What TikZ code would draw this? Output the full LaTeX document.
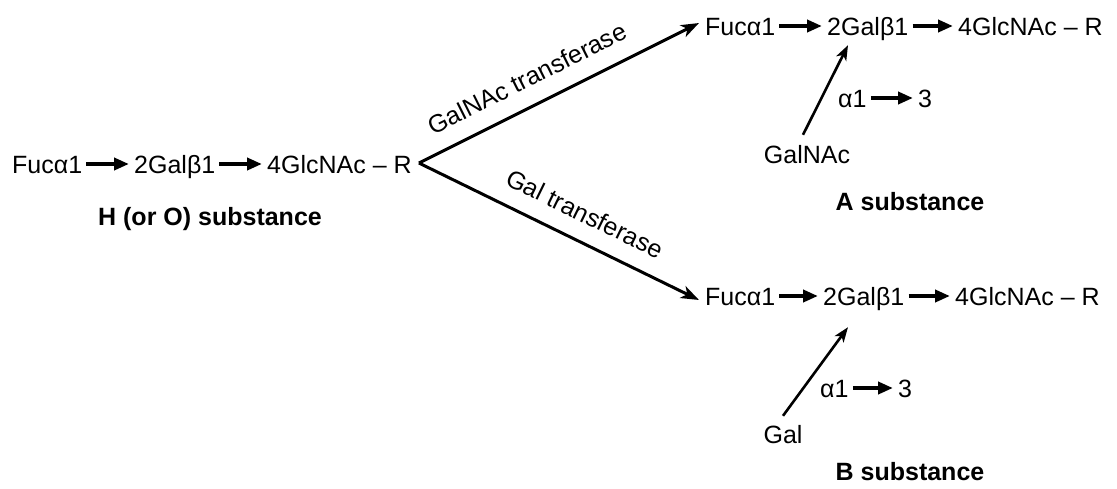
\documentclass[tikz,border=0pt]{standalone}
\usepackage{fontspec}
\setmainfont{Liberation Sans}
\usetikzlibrary{arrows.meta}
\begin{document}
\begin{tikzpicture}[x=1pt,y=-1pt,
  txt/.style={inner sep=0pt,text height=18pt,text depth=0pt,font=\fontsize{25}{30}\selectfont},
  bold/.style={txt,font=\fontsize{25}{30}\selectfont\bfseries},
  chainarrow/.style={line width=4pt,-{Triangle[length=15pt,width=12pt]},shorten <=4pt,shorten >=5pt},
  bigarrow/.style={line width=3pt,-{Stealth[length=18pt,width=13pt,inset=5pt]}},
  uparrow/.style={line width=2.6pt,-{Stealth[length=15pt,width=11pt,inset=4pt]}},
  lab/.style={txt,sloped,above=17pt}]
\useasboundingbox (0,0) rectangle (1117,488);
% left chain
\node[txt,anchor=west] (f0) at (12,164) {Fucα1};
\node[txt,anchor=west] (g0) at (134,164) {2Galβ1};
\node[txt,anchor=west] (n0) at (267,164) {4GlcNAc – R};
\draw[chainarrow] (f0.east) -- (g0.west);
\draw[chainarrow] (g0.east) -- (n0.west);
\node[bold] (hs) at (210,216) {H (or O) substance};
\coordinate (v) at ([shift={(7,-1)}]n0.east);
% top chain
\node[txt,anchor=west] (fa) at (705,26) {Fucα1};
\node[txt,anchor=west] (ga) at (827,26) {2Galβ1};
\node[txt,anchor=west] (na) at (958,26) {4GlcNAc – R};
\draw[chainarrow] (fa.east) -- (ga.west);
\draw[chainarrow] (ga.east) -- (na.west);
\node[txt] (gna) at (807,154) {GalNAc};
\node[txt,anchor=west] (a1a) at (838,98) {α1};
\node[txt,anchor=west] (t3a) at (918,98) {3};
\draw[chainarrow] (a1a.east) -- (t3a.west);
\coordinate (ea) at ([shift={(21,10)}]ga.south west);
\draw[uparrow] ([shift={(-4,-10)}]gna.north) -- (ea);
\node[bold] (as) at (910,201) {A substance};
% bottom chain
\node[txt,anchor=west] (fb) at (705,296) {Fucα1};
\node[txt,anchor=west] (gb) at (823,296) {2Galβ1};
\node[txt,anchor=west] (nb) at (955,296) {4GlcNAc – R};
\draw[chainarrow] (fb.east) -- (gb.west);
\draw[chainarrow] (gb.east) -- (nb.west);
\node[txt] (gl) at (783,434) {Gal};
\node[txt,anchor=west] (a1b) at (820,388) {α1};
\node[txt,anchor=west] (t3b) at (898,388) {3};
\draw[chainarrow] (a1b.east) -- (t3b.west);
\coordinate (eb) at ([shift={(25,22)}]gb.south west);
\draw[uparrow] ([shift={(0,-9)}]gl.north) -- (eb);
\node[bold] (bs) at (910,471) {B substance};
% diagonal arrows
\draw[bigarrow] (v) -- node[lab,pos=0.43] (l1) {GalNAc transferase} ([shift={(-6,-3)}]fa.west);
\draw[bigarrow] (v) -- node[lab,pos=0.55] (l2) {Gal transferase} ([shift={(-6,4)}]fb.west);
\end{tikzpicture}
\end{document}
